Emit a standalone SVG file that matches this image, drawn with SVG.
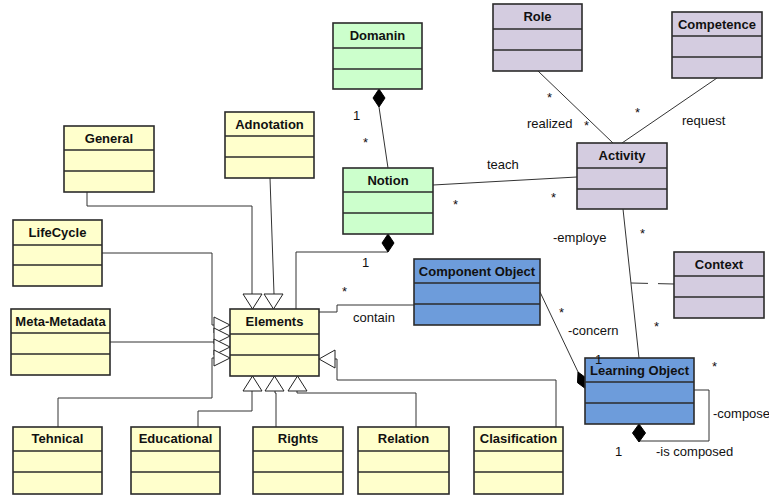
<svg xmlns="http://www.w3.org/2000/svg" width="769" height="495" viewBox="0 0 769 495">
<style>
.box{stroke:#2b2b2b;stroke-width:1.6}
.y{fill:#FFFFCC}.g{fill:#CCFFCC}.p{fill:#D4CCE0}.b{fill:#6D9CDB}
.div{stroke:#2b2b2b;stroke-width:1.6}
.t{font-family:"Liberation Sans",Arial,sans-serif;font-size:13px;font-weight:bold;text-anchor:middle;fill:#111}
.l{font-family:"Liberation Sans",Arial,sans-serif;font-size:13px;fill:#111}
.c{fill:none;stroke:#333;stroke-width:1}
.tri{fill:#fff;stroke:#222;stroke-width:1}
.dia{fill:#000;stroke:#000;stroke-width:1}
</style>
<rect width="769" height="495" fill="#fff"/>
<g id="connectors">
  <polyline class="c" points="87,192 87,206 252,206 252,294"/>
  <polyline class="c" points="270,178 274,294"/>
  <polyline class="c" points="102,253 212,253 212,325 214,325"/>
  <polyline class="c" points="110,342 214,342"/>
  <polyline class="c" points="58,427 58,398 212,398 212,358 214,358"/>
  <polyline class="c" points="198,427 198,411 252,411 252,391"/>
  <polyline class="c" points="276,427 276,393 275,393 275,391"/>
  <polyline class="c" points="416,427 416,393 297,393 297,391"/>
  <polyline class="c" points="556,427 556,380 337,380 337,359 335,359"/>
  <polygon class="tri" points="243,294 262,294 252.5,309"/>
  <polygon class="tri" points="264,294 283,294 273.5,309"/>
  <polygon class="tri" points="214,317 214,333 230,325"/>
  <polygon class="tri" points="214,328 214,344 230,336"/>
  <polygon class="tri" points="214,339 214,355 230,347"/>
  <polygon class="tri" points="214,350 214,366 230,358"/>
  <polygon class="tri" points="243,391 262,391 252.5,376"/>
  <polygon class="tri" points="265,391 284,391 274.5,376"/>
  <polygon class="tri" points="288,391 307,391 297.5,376"/>
  <polygon class="tri" points="335,350 335,368 319,359"/>
  <polyline class="c" points="388,252 296,252 296,309"/>
  <polygon class="dia" points="388,234 394,243 388,252 382,243"/>
  <text class="l" x="362" y="267">1</text>
  <polyline class="c" points="319,312 337,312 337,305 414,305"/>
  <text class="l" x="342" y="296">*</text>
  <text class="l" x="353" y="322">contain</text>
  <line class="c" x1="379" y1="107" x2="388" y2="168"/>
  <polygon class="dia" points="379,89 385,98 379,107 373,98"/>
  <text class="l" x="353" y="120">1</text>
  <text class="l" x="363" y="147">*</text>
  <line class="c" x1="433" y1="185" x2="577" y2="177"/>
  <text class="l" x="487" y="169">teach</text>
  <text class="l" x="453" y="209">*</text>
  <text class="l" x="551" y="202">*</text>
  <line class="c" x1="538" y1="71" x2="613" y2="143"/>
  <text class="l" x="547" y="102">*</text>
  <text class="l" x="527" y="128">realized</text>
  <text class="l" x="584" y="130">*</text>
  <line class="c" x1="717" y1="78" x2="622" y2="143"/>
  <text class="l" x="635" y="117">*</text>
  <text class="l" x="682" y="125">request</text>
  <text class="l" x="687" y="65">*</text>
  <line class="c" x1="623" y1="209" x2="639" y2="358"/>
  <text class="l" x="553" y="242">-employe</text>
  <text class="l" x="640" y="238">*</text>
  <text class="l" x="654" y="331">*</text>
  <line class="c" x1="631" y1="283" x2="674" y2="284" stroke-dasharray="17,10"/>
  <line class="c" x1="540" y1="292" x2="579" y2="374"/>
  <polygon class="dia" points="578,372 586.5,378.3 586,389 577.5,382.7"/>
  <text class="l" x="559" y="317">*</text>
  <text class="l" x="568" y="335">-concern</text>
  <polyline class="c" points="694,390 709,390 709,441 639,441"/>
  <polygon class="dia" points="639,424 645.5,433 639,442 632.5,433"/>
  <text class="l" x="713" y="418">-compose</text>
  <text class="l" x="615" y="456">1</text>
  <text class="l" x="656" y="456">-is composed</text>
  <text class="l" x="712" y="371">*</text>
</g>
<g id="General"><rect class="box y" x="64" y="126" width="90" height="66"/><line class="div" x1="64" y1="150" x2="154" y2="150"/><line class="div" x1="64" y1="171" x2="154" y2="171"/><text class="t" x="109" y="143">General</text></g>
<g id="Adnotation"><rect class="box y" x="225" y="112" width="89" height="66"/><line class="div" x1="225" y1="136" x2="314" y2="136"/><line class="div" x1="225" y1="157" x2="314" y2="157"/><text class="t" x="269.5" y="129">Adnotation</text></g>
<g id="LifeCycle"><rect class="box y" x="13" y="220" width="89" height="66"/><line class="div" x1="13" y1="245" x2="102" y2="245"/><line class="div" x1="13" y1="265" x2="102" y2="265"/><text class="t" x="57.5" y="237">LifeCycle</text></g>
<g id="Meta-Metadata"><rect class="box y" x="11" y="309" width="99" height="66"/><line class="div" x1="11" y1="333" x2="110" y2="333"/><line class="div" x1="11" y1="354" x2="110" y2="354"/><text class="t" x="60.5" y="326">Meta-Metadata</text></g>
<g id="Elements"><rect class="box y" x="230" y="309" width="89" height="67"/><line class="div" x1="230" y1="334" x2="319" y2="334"/><line class="div" x1="230" y1="355" x2="319" y2="355"/><text class="t" x="274.5" y="326">Elements</text></g>
<g id="Tehnical"><rect class="box y" x="13" y="427" width="89" height="67"/><line class="div" x1="13" y1="451" x2="102" y2="451"/><line class="div" x1="13" y1="472" x2="102" y2="472"/><text class="t" x="57.5" y="443">Tehnical</text></g>
<g id="Educational"><rect class="box y" x="131" y="427" width="89" height="67"/><line class="div" x1="131" y1="451" x2="220" y2="451"/><line class="div" x1="131" y1="472" x2="220" y2="472"/><text class="t" x="175.5" y="443">Educational</text></g>
<g id="Rights"><rect class="box y" x="253" y="427" width="90" height="67"/><line class="div" x1="253" y1="451" x2="343" y2="451"/><line class="div" x1="253" y1="472" x2="343" y2="472"/><text class="t" x="298" y="443">Rights</text></g>
<g id="Relation"><rect class="box y" x="358" y="427" width="91" height="67"/><line class="div" x1="358" y1="451" x2="449" y2="451"/><line class="div" x1="358" y1="472" x2="449" y2="472"/><text class="t" x="403.5" y="443">Relation</text></g>
<g id="Clasification"><rect class="box y" x="474" y="427" width="89" height="67"/><line class="div" x1="474" y1="451" x2="563" y2="451"/><line class="div" x1="474" y1="472" x2="563" y2="472"/><text class="t" x="518.5" y="443">Clasification</text></g>
<g id="Domanin"><rect class="box g" x="333" y="23" width="89" height="66"/><line class="div" x1="333" y1="48" x2="422" y2="48"/><line class="div" x1="333" y1="69" x2="422" y2="69"/><text class="t" x="377.5" y="40">Domanin</text></g>
<g id="Notion"><rect class="box g" x="343" y="168" width="90" height="66"/><line class="div" x1="343" y1="192" x2="433" y2="192"/><line class="div" x1="343" y1="213" x2="433" y2="213"/><text class="t" x="388" y="185">Notion</text></g>
<g id="Role"><rect class="box p" x="493" y="4" width="89" height="67"/><line class="div" x1="493" y1="29" x2="582" y2="29"/><line class="div" x1="493" y1="50" x2="582" y2="50"/><text class="t" x="537.5" y="21">Role</text></g>
<g id="Competence"><rect class="box p" x="672" y="12" width="90" height="66"/><line class="div" x1="672" y1="36" x2="762" y2="36"/><line class="div" x1="672" y1="57" x2="762" y2="57"/><text class="t" x="717" y="29">Competence</text></g>
<g id="Activity"><rect class="box p" x="577" y="143" width="90" height="66"/><line class="div" x1="577" y1="168" x2="667" y2="168"/><line class="div" x1="577" y1="189" x2="667" y2="189"/><text class="t" x="622" y="160">Activity</text></g>
<g id="Context"><rect class="box p" x="674" y="252" width="90" height="66"/><line class="div" x1="674" y1="276" x2="764" y2="276"/><line class="div" x1="674" y1="297" x2="764" y2="297"/><text class="t" x="719" y="269">Context</text></g>
<g id="ComponentObject"><rect class="box b" x="414" y="259" width="126" height="66"/><line class="div" x1="414" y1="283" x2="540" y2="283"/><line class="div" x1="414" y1="304" x2="540" y2="304"/><text class="t" x="477" y="276">Component Object</text></g>
<g id="LearningObject"><rect class="box b" x="585" y="358" width="109" height="66"/><line class="div" x1="585" y1="382" x2="694" y2="382"/><line class="div" x1="585" y1="403" x2="694" y2="403"/><text class="t" x="639.5" y="375">Learning Object</text></g>
<text class="l" x="595" y="364">1</text>
</svg>
